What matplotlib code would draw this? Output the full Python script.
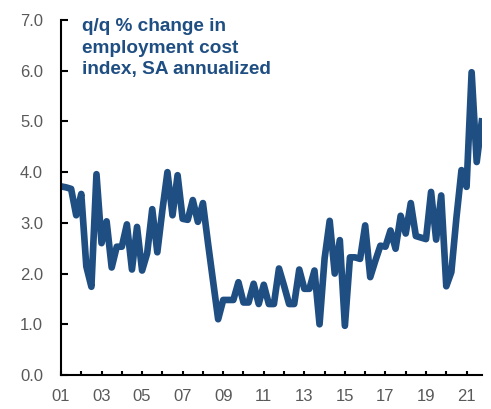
import numpy as np
import matplotlib.pyplot as plt
from matplotlib.ticker import MultipleLocator, FormatStrFormatter

# q/q % change in employment cost index, SA annualized, 2001Q1 - 2021Q4
eci = [3.72, 3.70, 3.67, 3.15, 3.57, 2.14, 1.74, 3.96,   # 2001-2002
       2.60, 3.03, 2.12, 2.53, 2.53, 2.97, 2.08, 2.92,   # 2003-2004
       2.06, 2.40, 3.27, 2.42, 3.25, 4.00, 3.15, 3.94,   # 2005-2006
       3.08, 3.06, 3.45, 3.02, 3.39, 2.60, 1.85, 1.10,   # 2007-2008
       1.48, 1.48, 1.48, 1.83, 1.43, 1.43, 1.80, 1.40,   # 2009-2010
       1.78, 1.40, 1.40, 2.10, 1.76, 1.40, 1.40, 2.08,   # 2011-2012
       1.70, 1.70, 2.06, 1.00, 2.30, 3.04, 2.00, 2.66,   # 2013-2014
       0.97, 2.32, 2.32, 2.29, 2.95, 1.93, 2.25, 2.55,   # 2015-2016
       2.53, 2.85, 2.49, 3.14, 2.79, 3.39, 2.74, 2.71,   # 2017-2018
       2.68, 3.61, 2.67, 3.54, 1.75, 2.03, 3.10, 4.04,   # 2019-2020
       3.71, 5.97, 4.20, 5.00]                          # 2021
start_year = 2001
year_labels = ['01', '03', '05', '07', '09', '11', '13', '15', '17', '19', '21']

x = start_year + np.arange(len(eci)) / 4
blue = '#1F4E82'
grey = '#595959'

fig = plt.figure(figsize=(4.91, 4.09), dpi=100)
ax = fig.add_axes([0.1242, 0.0831, 0.857, 0.868])

ax.plot(x, eci, color=blue, lw=4.8, solid_joinstyle='round')

ax.set_xlim(start_year, start_year + 20.75)
ax.set_ylim(0, 7)

ax.spines['top'].set_visible(False)
ax.spines['right'].set_visible(False)
for s in ['left', 'bottom']:
    ax.spines[s].set_linewidth(1.5)

ax.yaxis.set_major_locator(MultipleLocator(1))
ax.yaxis.set_major_formatter(FormatStrFormatter('%.1f'))
ax.set_xticks([start_year + 2 * k for k in range(len(year_labels))])
ax.set_xticklabels(year_labels)
ax.xaxis.set_minor_locator(MultipleLocator(1))

ax.tick_params(axis='y', direction='in', length=5, width=1.5, pad=13,
               labelsize=12, labelcolor=grey)
ax.tick_params(axis='x', which='both', direction='in', length=3, width=1.5,
               pad=10, labelsize=12, labelcolor=grey)

fig.text(0.167, 0.955, 'q/q % change in\nemployment cost\nindex, SA annualized',
         color=blue, fontsize=13.7, fontweight='bold', family='Liberation Sans',
         va='top', ha='left', linespacing=1.32)

for t in ax.get_xticklabels() + ax.get_yticklabels():
    t.set_family('Liberation Sans')

fig.savefig('out.png', dpi=100)
